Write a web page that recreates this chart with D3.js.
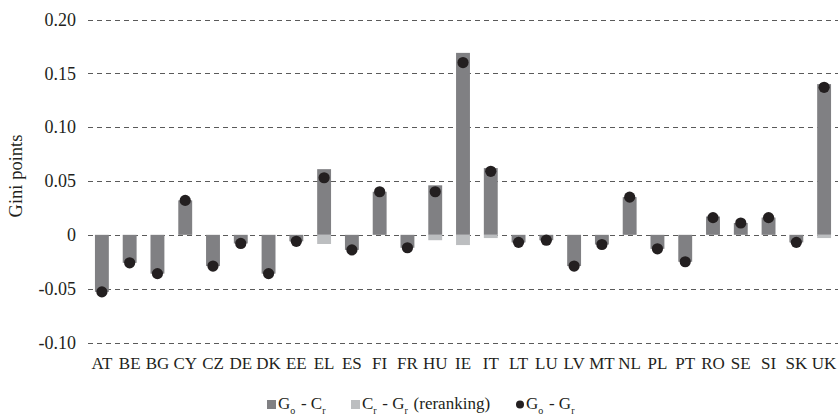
<!DOCTYPE html>
<html><head><meta charset="utf-8">
<script src="https://cdn.jsdelivr.net/npm/d3@7"></script>
<style>
html,body{margin:0;padding:0;background:#fff;}
svg, svg text{font-family:"Liberation Serif","Times New Roman",serif !important;}
</style></head>
<body><svg id="c" width="839" height="417"></svg>
<script>
const countries = ["AT","BE","BG","CY","CZ","DE","DK","EE","EL","ES","FI","FR","HU","IE","IT","LT","LU","LV","MT","NL","PL","PT","RO","SE","SI","SK","UK"];
// G_o - C_r
const goCr = [-0.053,-0.026,-0.036,0.032,-0.029,-0.008,-0.036,-0.006,0.061,-0.014,0.040,-0.012,0.046,0.169,0.062,-0.007,-0.005,-0.029,-0.009,0.035,-0.013,-0.025,0.017,0.011,0.016,-0.007,0.140];
// C_r - G_r (reranking)
const crGr = [0,0,0,0,0,0,0,0,-0.0085,0,0,0,-0.005,-0.0095,-0.003,0,0,0,0,0,0,0,0,0,0,0,-0.003];
// G_o - G_r
const goGr = [-0.053,-0.026,-0.036,0.032,-0.029,-0.008,-0.036,-0.006,0.053,-0.014,0.040,-0.012,0.040,0.160,0.059,-0.007,-0.005,-0.029,-0.009,0.035,-0.013,-0.025,0.016,0.011,0.016,-0.007,0.137];
const yTicks = [-0.10,-0.05,0,0.05,0.10,0.15,0.20];
const yTickLabels = ["-0.10","-0.05","0","0.05","0.10","0.15","0.20"];

const svg = d3.select("#c");
const x = d3.scaleBand().domain(countries).range([88, 838]).paddingInner(0.5).paddingOuter(0.25);
const y = d3.scaleLinear().domain([-0.10, 0.20]).range([342.5, 19.5]);

const darkC = "#808083", lightC = "#bcbec0", dotC = "#231f20", gridC = "#5a5a5a", textC = "#231f20";

// grid
svg.append("g").selectAll("line").data(yTicks).join("line")
  .attr("x1", 88).attr("x2", 838)
  .attr("y1", d => Math.round(y(d)) + 0.5).attr("y2", d => Math.round(y(d)) + 0.5)
  .attr("stroke", gridC).attr("stroke-width", 1).attr("stroke-dasharray", "5,4");

// y tick labels
const yAxis = d3.axisLeft(y).tickValues(yTicks).tickSize(0).tickPadding(0)
  .tickFormat((d, i) => yTickLabels[i]);
const ya = svg.append("g").attr("transform", "translate(76,0)").call(yAxis);
ya.select(".domain").remove();
ya.attr("font-size", null).attr("font-family", null);
ya.selectAll("text").attr("font-size", 18).attr("fill", textC);

// x labels
const xAxis = d3.axisBottom(x).tickSize(0).tickPadding(0);
const xa = svg.append("g").attr("transform", "translate(0,357)").call(xAxis);
xa.select(".domain").remove();
xa.attr("font-size", null).attr("font-family", null);
xa.selectAll("text").attr("font-size", 17).attr("fill", textC).attr("dy", "0.71em");

// y title
svg.append("text").attr("transform", "translate(22,176) rotate(-90)")
  .attr("text-anchor", "middle").attr("font-size", 18.5).attr("fill", textC).text("Gini points");

// dark bars
svg.append("g").selectAll("rect").data(countries).join("rect")
  .attr("x", d => x(d)).attr("width", x.bandwidth())
  .attr("y", (d, i) => y(Math.max(0, goCr[i])))
  .attr("height", (d, i) => Math.abs(y(goCr[i]) - y(0)))
  .attr("fill", darkC);

// light bars (stacked on negative side)
svg.append("g").selectAll("rect").data(countries).join("rect")
  .attr("x", d => x(d)).attr("width", x.bandwidth())
  .attr("y", (d, i) => goCr[i] >= 0 ? y(0) : y(goCr[i]))
  .attr("height", (d, i) => Math.abs(y(crGr[i]) - y(0)))
  .attr("fill", lightC);

// dots
svg.append("g").selectAll("circle").data(countries).join("circle")
  .attr("cx", d => x(d) + x.bandwidth() / 2)
  .attr("cy", (d, i) => y(goGr[i]))
  .attr("r", 5.6).attr("fill", dotC);

// legend
const lg = svg.append("g").attr("font-size", 17).attr("fill", textC);
function subLabel(g, xPos, parts) {
  const t = g.append("text").attr("x", xPos).attr("y", 409).attr("fill", textC);
  parts.forEach(p => {
    if (p.sub) {
      t.append("tspan").attr("font-size", 10).attr("dy", 5).text(p.t);
      t.append("tspan").attr("dy", -5).text("\u200a");
    } else {
      t.append("tspan").text(p.t);
    }
  });
}
lg.append("rect").attr("x", 267).attr("y", 400).attr("width", 9).attr("height", 9).attr("fill", darkC);
subLabel(lg, 278, [{t:"G"},{t:"o",sub:true},{t:" - C"},{t:"r",sub:true}]);
lg.append("rect").attr("x", 351).attr("y", 400).attr("width", 9).attr("height", 9).attr("fill", lightC);
subLabel(lg, 362, [{t:"C"},{t:"r",sub:true},{t:" - G"},{t:"r",sub:true},{t:" (reranking)"}]);
lg.append("circle").attr("cx", 520).attr("cy", 404.5).attr("r", 4).attr("fill", dotC);
subLabel(lg, 526, [{t:"G"},{t:"o",sub:true},{t:" - G"},{t:"r",sub:true}]);
</script>
</body></html>
